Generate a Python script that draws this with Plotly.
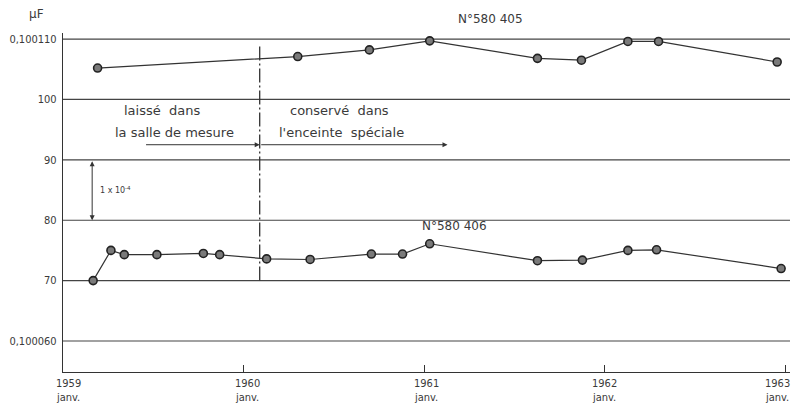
import plotly.graph_objects as go

# ---- data (µF) ----
dates_405 = ["1959-03-12", "1960-04-20", "1960-09-12", "1961-01-12", "1961-08-18",
             "1961-11-15", "1962-02-17", "1962-04-20", "1962-12-16"]
vals_405 = [0.1001052, 0.1001071, 0.1001082, 0.1001097, 0.1001068,
            0.1001065, 0.1001096, 0.1001096, 0.1001062]

dates_406 = ["1959-03-03", "1959-04-08", "1959-05-05", "1959-07-10", "1959-10-12",
             "1959-11-14", "1960-02-17", "1960-05-15", "1960-09-16", "1960-11-18",
             "1961-01-12", "1961-08-18", "1961-11-17", "1962-02-17", "1962-04-16",
             "1962-12-24"]
vals_406 = [0.1000700, 0.1000750, 0.1000743, 0.1000743, 0.1000745,
            0.1000743, 0.1000736, 0.1000735, 0.1000744, 0.1000744,
            0.1000761, 0.1000733, 0.1000734, 0.1000750, 0.1000751,
            0.1000720]

y_tickvals = [0.100110, 0.100100, 0.100090, 0.100080, 0.100070, 0.100060]
y_ticktext = ["0,100110", "100", "90", "80", "70", "0,100060"]
x_tickvals = ["1959-01-01", "1960-01-01", "1961-01-01", "1962-01-01", "1963-01-01"]
x_years = ["1959", "1960", "1961", "1962", "1963"]
x_month = "janv."

change_date = "1960-02-03"

FONT = "DejaVu Sans"
TICKFONT = "DejaVu Sans Condensed"
TXT = "#3a3a3a"
LINE = "#333333"

fig = go.Figure()
marker = dict(size=8, color="#7a7a7a", line=dict(color="#222222", width=1.6))
fig.add_trace(go.Scatter(x=dates_405, y=vals_405, mode="lines+markers",
                         line=dict(color=LINE, width=1.2), marker=marker))
fig.add_trace(go.Scatter(x=dates_406, y=vals_406, mode="lines+markers",
                         line=dict(color=LINE, width=1.2), marker=marker))

# horizontal grid lines
for v in y_tickvals:
    fig.add_shape(type="line", xref="paper", yref="y", x0=0, x1=1, y0=v, y1=v,
                  line=dict(color="#444444", width=1.2), layer="below")

# vertical dash-dot separator
fig.add_shape(type="line", xref="x", yref="y", x0=change_date, x1=change_date,
              y0=0.100070, y1=0.100109,
              line=dict(color="#333333", width=1.3, dash="14px,3px,2px,3px"))

ann = []
# arrows for periods
ann.append(dict(x=change_date, y=0.1000925, ax="1959-06-15", ay=0.1000925,
                xref="x", yref="y", axref="x", ayref="y", text="", showarrow=True,
                arrowhead=2, arrowsize=1, arrowwidth=1, arrowcolor="#333"))
ann.append(dict(x="1961-02-17", y=0.1000925, ax=change_date, ay=0.1000925,
                xref="x", yref="y", axref="x", ayref="y", text="", showarrow=True,
                arrowhead=2, arrowsize=1, arrowwidth=1, arrowcolor="#333"))
# double arrow 1 x 10^-4
ann.append(dict(x="1959-03-01", y=0.100080, ax="1959-03-01", ay=0.100090,
                xref="x", yref="y", axref="x", ayref="y", text="", showarrow=True,
                arrowhead=2, startarrowhead=2, arrowside="end+start", arrowsize=1,
                arrowwidth=1, arrowcolor="#333"))
ann.append(dict(x="1959-03-12", y=0.1000850, xref="x", yref="y", text="1 x 10<sup>-4</sup>",
                showarrow=False, xanchor="left", yanchor="middle",
                font=dict(size=8, color=TXT, family=FONT)))

txt_font = dict(size=13, color=TXT, family=FONT)
ann.append(dict(x="1959-07-20", y=0.1000981, xref="x", yref="y", text="laissé  dans",
                showarrow=False, xanchor="center", yanchor="middle", font=txt_font))
ann.append(dict(x="1959-08-15", y=0.1000946, xref="x", yref="y", text="la salle de mesure",
                showarrow=False, xanchor="center", yanchor="middle", font=txt_font))
ann.append(dict(x="1960-07-14", y=0.1000981, xref="x", yref="y", text="conservé  dans",
                showarrow=False, xanchor="center", yanchor="middle", font=txt_font))
ann.append(dict(x="1960-07-18", y=0.1000946, xref="x", yref="y", text="l'enceinte  spéciale",
                showarrow=False, xanchor="center", yanchor="middle", font=txt_font))
ann.append(dict(x="1961-05-14", y=1.041, xref="x", yref="paper", text="N°580 405",
                showarrow=False, xanchor="center", yanchor="middle",
                font=dict(size=12, color=TXT, family=FONT)))
ann.append(dict(x="1961-03-03", y=0.1000790, xref="x", yref="y", text="N°580 406",
                showarrow=False, xanchor="center", yanchor="middle",
                font=dict(size=12, color=TXT, family=FONT)))
ann.append(dict(x=-0.0495, y=1.056, xref="paper", yref="paper", text="µF",
                showarrow=False, xanchor="left", yanchor="middle",
                font=dict(size=12, color=TXT, family=FONT)))

# x tick labels (year + month) under the axis
shifts = [5, 4, 2, 0, -8]
for xv, yr, sh in zip(x_tickvals, x_years, shifts):
    ann.append(dict(x=xv, y=-0.008, xref="x", yref="paper", yanchor="top",
                    xanchor="center", text=yr + "<br>" + x_month, showarrow=False,
                    xshift=sh, align="center",
                    font=dict(size=11, color=TXT, family=TICKFONT)))

fig.update_layout(
    width=794, height=406,
    margin=dict(l=63, r=4, t=33, b=34),
    paper_bgcolor="white", plot_bgcolor="white",
    showlegend=False,
    annotations=ann,
    font=dict(family=FONT, size=11, color=TXT),
)
fig.update_xaxes(type="date", range=["1959-01-01", "1963-01-11"],
                 tickvals=x_tickvals, showticklabels=False, automargin=False,
                 showgrid=False, zeroline=False, showline=True, linecolor="#333",
                 linewidth=1.3, ticks="inside", ticklen=7, tickcolor="#333")
fig.update_yaxes(range=[0.10005487, 0.1001110], automargin=False,
                 tickvals=y_tickvals, ticktext=y_ticktext,
                 showgrid=False, zeroline=False, showline=True, linecolor="#333",
                 linewidth=1.3, ticks="", ticklabelstandoff=3,
                 tickfont=dict(size=11, color=TXT, family=TICKFONT))

fig.write_html("out.html", config={"displayModeBar": False},
               post_script="document.body.style.margin='0';document.body.style.overflow='hidden';")
